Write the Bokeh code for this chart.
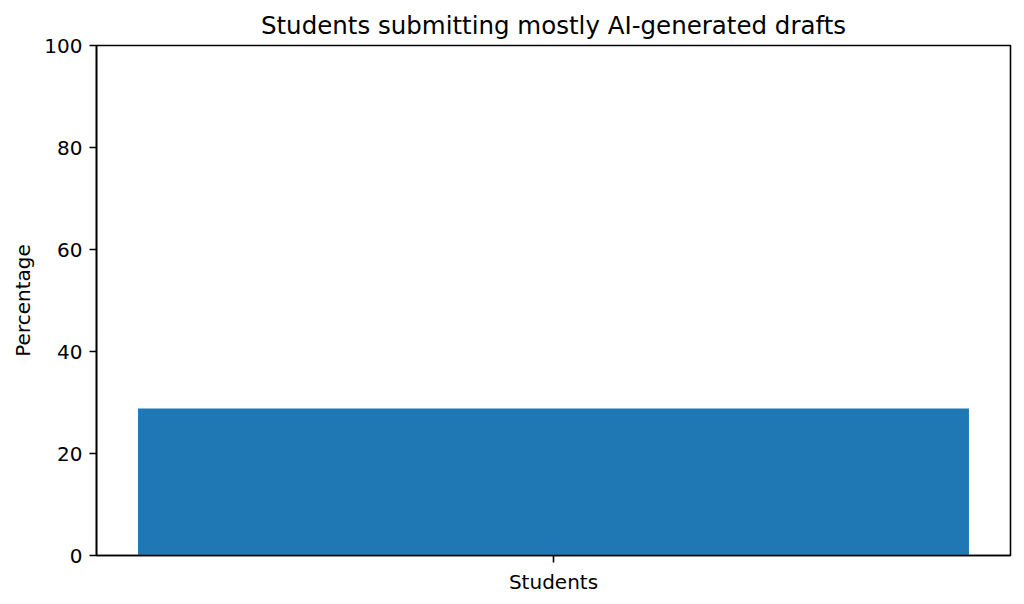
from bokeh.plotting import figure
from bokeh.models import FactorRange, Range1d, FixedTicker, ColumnDataSource
from bokeh.embed import file_html
from bokeh.resources import INLINE

categories = ["Students"]
percentages = [28.8]
y_ticks = [0, 20, 40, 60, 80, 100]

TITLE = "Students submitting mostly AI-generated drafts"
FONT = "DejaVu Sans"

source = ColumnDataSource(data=dict(category=categories, value=percentages))

p = figure(
    width=1024, height=604,
    x_range=FactorRange(factors=categories),
    y_range=Range1d(0, 100),
    title=TITLE,
    output_backend="svg",
    toolbar_location=None,
    min_border_left=96, min_border_right=14,
    min_border_top=45, min_border_bottom=49,
)
p.frame_width = 914
p.frame_height = 510

p.vbar(x="category", top="value", width=0.8 / 0.88, source=source,
       fill_color="#1f77b4", line_color=None)

p.title.text_font = FONT
p.title.text_font_size = "24.5px"
p.title.text_font_style = "normal"
p.title.text_color = "black"
p.title.align = "center"
p.title.standoff = 11

p.xgrid.visible = False
p.ygrid.visible = False
p.outline_line_color = "black"
p.outline_line_width = 1.6
p.outline_line_alpha = 1.0
p.background_fill_color = "white"
p.border_fill_color = "white"

p.yaxis.ticker = FixedTicker(ticks=y_ticks)
p.yaxis.axis_label = "Percentage"

for ax in (p.xaxis, p.yaxis):
    ax.axis_line_color = "black"
    ax.axis_line_width = 1.6
    ax.major_tick_line_color = "black"
    ax.major_tick_line_width = 1.6
    ax.major_tick_out = 7
    ax.major_tick_in = 0
    ax.minor_tick_line_color = None
    ax.major_label_standoff = 7
    ax.major_label_text_font = FONT
    ax.major_label_text_font_size = "20px"
    ax.major_label_text_color = "black"
    ax.axis_label_text_font = FONT
    ax.axis_label_text_font_size = "20px"
    ax.axis_label_text_font_style = "normal"
    ax.axis_label_text_color = "black"
    ax.axis_label_standoff = 6

p.xaxis.group_text_font_size = "20px"

open("out.html", "w").write(file_html(p, INLINE))
